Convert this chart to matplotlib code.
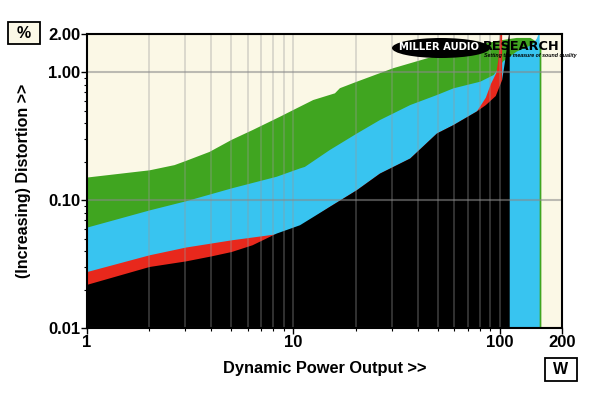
import matplotlib
matplotlib.use("Agg")
import matplotlib.pyplot as plt
from matplotlib.patches import Ellipse, Rectangle
from matplotlib.ticker import FixedLocator, FixedFormatter, NullFormatter

plt.rcParams['font.family'] = ['Liberation Sans', 'DejaVu Sans']

# ---- data (power in W, distortion in %) ----
green_x = [1, 2, 2.64, 3.0, 3.9, 5.0, 6.3, 8.55, 9.93, 12.4, 15.8, 16.7, 20.2, 30.3, 44, 55, 70, 100, 120, 140, 150, 158, 158]
green_y = [0.152, 0.173, 0.19, 0.205, 0.241, 0.30, 0.357, 0.454, 0.513, 0.614, 0.693, 0.76, 0.855, 1.09, 1.30, 1.43, 1.6, 1.8, 1.88, 1.88, 1.75, 1.6, 0.01]

cyan_x = [1, 2, 3, 5, 8.24, 10.7, 11.3, 14.9, 20.2, 26.1, 36.6, 49.3, 59.3, 80, 92.9, 103, 120, 142.5, 150, 153, 155, 155]
cyan_y = [0.0617, 0.084, 0.099, 0.125, 0.154, 0.179, 0.184, 0.249, 0.336, 0.428, 0.561, 0.672, 0.758, 0.855, 0.964, 1.23, 1.47, 1.66, 1.85, 2.0, 2.0, 0.01]

red_x = [1, 2, 3, 5, 8.24, 10.5, 14.9, 20.2, 26.1, 36.6, 49.3, 59.3, 77, 85, 90, 95.6, 98, 99, 99.5, 102, 102]
red_y = [0.0277, 0.0374, 0.043, 0.049, 0.0546, 0.0617, 0.0894, 0.121, 0.163, 0.214, 0.336, 0.391, 0.50, 0.64, 0.82, 1.0, 1.3, 1.7, 2.0, 2.0, 0.01]

black_x = [1, 2, 3, 4, 5, 6.3, 8.24, 10.7, 14.9, 20.2, 26.1, 36.6, 49.3, 59.3, 77, 85, 95, 102, 105, 108, 110, 111, 111]
black_y = [0.022, 0.0303, 0.0335, 0.0367, 0.0397, 0.0448, 0.0553, 0.0643, 0.0894, 0.121, 0.163, 0.214, 0.336, 0.391, 0.50, 0.56, 0.66, 0.88, 1.19, 1.66, 2.0, 2.0, 0.01]

x_major = [1, 10, 100, 200]
x_major_labels = ["1", "10", "100", "200"]
x_minor = [2, 3, 4, 5, 6, 7, 8, 9, 20, 30, 40, 50, 60, 70, 80, 90]
y_major = [0.01, 0.1, 1.0, 2.0]
y_major_labels = ["0.01", "0.10", "1.00", "2.00"]
y_minor = [0.02, 0.03, 0.04, 0.05, 0.06, 0.07, 0.08, 0.09, 0.2, 0.3, 0.4, 0.5, 0.6, 0.7, 0.8, 0.9]

W, H = 600, 393
fig = plt.figure(figsize=(6, 3.93), dpi=100)
fig.patch.set_facecolor('white')
ax = fig.add_axes([87 / W, 1 - 328 / H, 475 / W, 294 / H])
ax.set_xscale('log')
ax.set_yscale('log')
ax.set_xlim(1, 200)
ax.set_ylim(0.01, 2.0)
ax.set_facecolor('#FBF8E6')

ymin = 0.01
ax.fill_between(green_x, ymin, green_y, color='#40A520', lw=0, zorder=1)
ax.fill_between(cyan_x, ymin, cyan_y, color='#38C4F0', lw=0, zorder=1.1)
ax.fill_between(red_x, ymin, red_y, color='#E8281C', lw=0, zorder=1.2)
ax.fill_between(black_x, ymin, black_y, color='#000000', lw=0, zorder=1.3)

ax.xaxis.set_major_locator(FixedLocator(x_major))
ax.xaxis.set_major_formatter(FixedFormatter(x_major_labels))
ax.xaxis.set_minor_locator(FixedLocator(x_minor))
ax.xaxis.set_minor_formatter(NullFormatter())
ax.yaxis.set_major_locator(FixedLocator(y_major))
ax.yaxis.set_major_formatter(FixedFormatter(y_major_labels))
ax.yaxis.set_minor_locator(FixedLocator(y_minor))
ax.yaxis.set_minor_formatter(NullFormatter())

ax.set_axisbelow(False)
ax.xaxis.grid(True, which='both', color='#999999', alpha=0.38, lw=1.2)
ax.yaxis.grid(True, which='major', color='#888888', alpha=0.55, lw=1.5)

ax.tick_params(axis='both', which='major', length=4, width=1, direction='out',
               labelsize=12, pad=1)
ax.tick_params(axis='both', which='minor', length=2.5, width=0.8, direction='out')
for lab in ax.get_xticklabels() + ax.get_yticklabels():
    lab.set_fontweight('bold')

for s in ax.spines.values():
    s.set_color('black')
    s.set_linewidth(1.5)
    s.set_zorder(5)

ax.set_xlabel('Dynamic Power Output >>', fontsize=11.8, fontweight='bold', labelpad=8)
ax.set_ylabel('(Increasing) Distortion >>', fontsize=11.5, fontweight='bold', labelpad=12)

# unit boxes
fig.patches.append(Rectangle((8 / W, 1 - 44 / H), 32 / W, 22 / H, transform=fig.transFigure,
                             facecolor='#FBF8E6', edgecolor='black', lw=1.3))
fig.text(24 / W, 1 - 33 / H, '%', fontsize=11.5, fontweight='bold', ha='center', va='center')
fig.patches.append(Rectangle((545 / W, 1 - 381 / H), 32 / W, 23 / H, transform=fig.transFigure,
                             facecolor='white', edgecolor='black', lw=1.3))
fig.text(561 / W, 1 - 369.5 / H, 'W', fontsize=11.5, fontweight='bold', ha='center', va='center')

# logo
ell = Ellipse((441 / W, 1 - 48 / H), 98 / W, 20 / H, transform=fig.transFigure,
              facecolor='black', edgecolor='none', zorder=10)
fig.patches.append(ell)
fig.text(399 / W, 1 - 47 / H, 'MILLER AUDIO', fontsize=7.2, fontweight='heavy', color='white',
         ha='left', va='center', family='DejaVu Sans', zorder=11)
fig.text(483 / W, 1 - 46 / H, 'RESEARCH', fontsize=9.3, fontweight='heavy', color='black',
         ha='left', va='center', family='DejaVu Sans', zorder=11)
fig.text(484 / W, 1 - 55.5 / H, 'Setting the measure of sound quality', fontsize=3.8,
         fontweight='bold', style='italic', color='black', ha='left', va='center', zorder=11)

fig.savefig('out.png', dpi=100)
